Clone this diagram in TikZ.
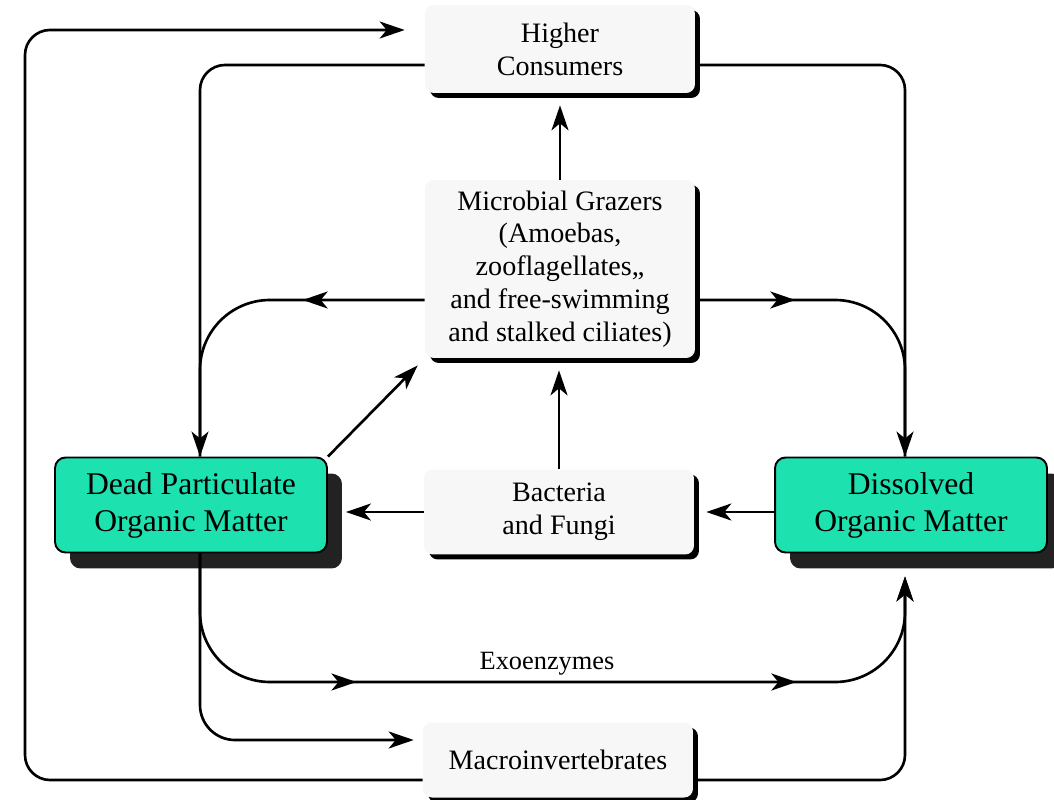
\documentclass[tikz,border=0pt]{standalone}
\usepackage{fontspec}
\setmainfont{Liberation Serif}
\usetikzlibrary{arrows.meta, calc, shadows, decorations.markings}
\definecolor{cgreen}{HTML}{1DE2B0}
\definecolor{cshadow}{HTML}{222222}
\definecolor{cpaper}{HTML}{F7F7F7}

\begin{document}
\begin{tikzpicture}[
  x=0.02cm, y=-0.02cm,
  pool/.style={
    rectangle, rounded corners=6pt, draw=black, fill=cgreen,
    line width=1.1pt, minimum width=5.44cm, minimum height=1.9cm,
    align=center, font=\fontsize{18}{21}\selectfont,
    drop shadow={shadow xshift=0.3cm, shadow yshift=-0.32cm, opacity=1, fill=cshadow}
  },
  taxon/.style={
    rectangle, rounded corners=5pt, fill=cpaper, minimum width=5.4cm,
    align=center, font=\fontsize{16}{18.7}\selectfont,
    drop shadow={shadow xshift=0.1cm, shadow yshift=-0.1cm, opacity=1, fill=black}
  },
  flow/.style={-{Stealth[length=5mm, width=3.4mm, inset=1.4mm]}, line width=1.5pt},
  midarrow/.style={postaction={decorate, decoration={markings,
    mark=at position #1 with {\arrow{Stealth[length=5mm, width=3.4mm, inset=1.4mm]}}}}}
]
\useasboundingbox (0,0) rectangle (1054,800);

% ============================================================
% Boxes: the consumers (stippled) and the two organic pools (green).
\node[taxon, minimum height=1.76cm] (hc) at (560,49) {Higher\\Consumers};
\node[taxon, minimum height=3.56cm] (mg) at (560,269)
  {Microbial Grazers\\(Amoebas,\\zooflagellates,,\\and free-swimming\\and stalked ciliates)};
\node[taxon, minimum height=1.7cm] (bf) at (559,512) {Bacteria\\and Fungi};
\node[taxon, minimum height=1.5cm] (mi) at (558,760) {Macroinvertebrates};

\node[pool] (dpom) at (191,505) {Dead Particulate\\Organic Matter};
\node[pool] (dom) at (911,505) {Dissolved\\Organic Matter};

% Vertical trunks on either side, and the outer corner
\coordinate (lft) at (200,0);
\coordinate (rgt) at (905,0);
\coordinate (outer) at (25,30);

% ============================================================
% Upper loops: consumers return material to the two pools.
\draw[flow, rounded corners=0.5cm, shorten >=0.4cm]
  (mi.west |- 0,780) -| (outer) -- (hc.west |- outer);
\draw[flow, rounded corners=0.5cm] (hc.west |- 0,65) -| (dpom.north -| lft);
\draw[flow, rounded corners=0.5cm] (hc.east |- 0,65) -| (dom.north -| rgt);
\draw[line width=1.5pt, rounded corners=1.4cm, midarrow=2.44cm]
  (mg.west |- 0,300) -| (dpom.north -| lft);
\draw[line width=1.5pt, rounded corners=1.4cm, midarrow=2.0cm]
  (mg.east |- 0,300) -| (dom.north -| rgt);

% Centre column
\draw[flow, shorten >=0.24cm] (bf.north) -- (bf.north |- mg.south);
\draw[flow, shorten >=0.24cm] (mg.north) -- (mg.north |- hc.south);
\draw[flow, shorten >=0.2cm] (dpom.north east) -- (mg.south west);
\draw[flow, shorten >=0.36cm] (bf.west) -- (dpom.east |- bf.west);
\draw[flow, shorten >=0.24cm] (dom.west |- bf.east) -- (bf.east);

% ============================================================
% Lower loops: exoenzymes and macroinvertebrates.
\draw[flow, rounded corners=1.4cm, shorten >=0.46cm, midarrow=5.1cm, midarrow=13.9cm]
  (dpom.south -| lft) |- (rgt |- 0,682) -- (dom.south -| rgt);
\node[font=\fontsize{15}{18}\selectfont] (exo) at (547,664) {Exoenzymes};
\draw[flow, rounded corners=0.7cm, shorten >=0.18cm]
  (dpom.south -| lft) |- (mi.west |- 0,740);
\draw[flow, rounded corners=0.5cm, shorten >=0.46cm]
  (mi.east |- 0,780) -| (dom.south -| rgt);

\end{tikzpicture}
\end{document}
